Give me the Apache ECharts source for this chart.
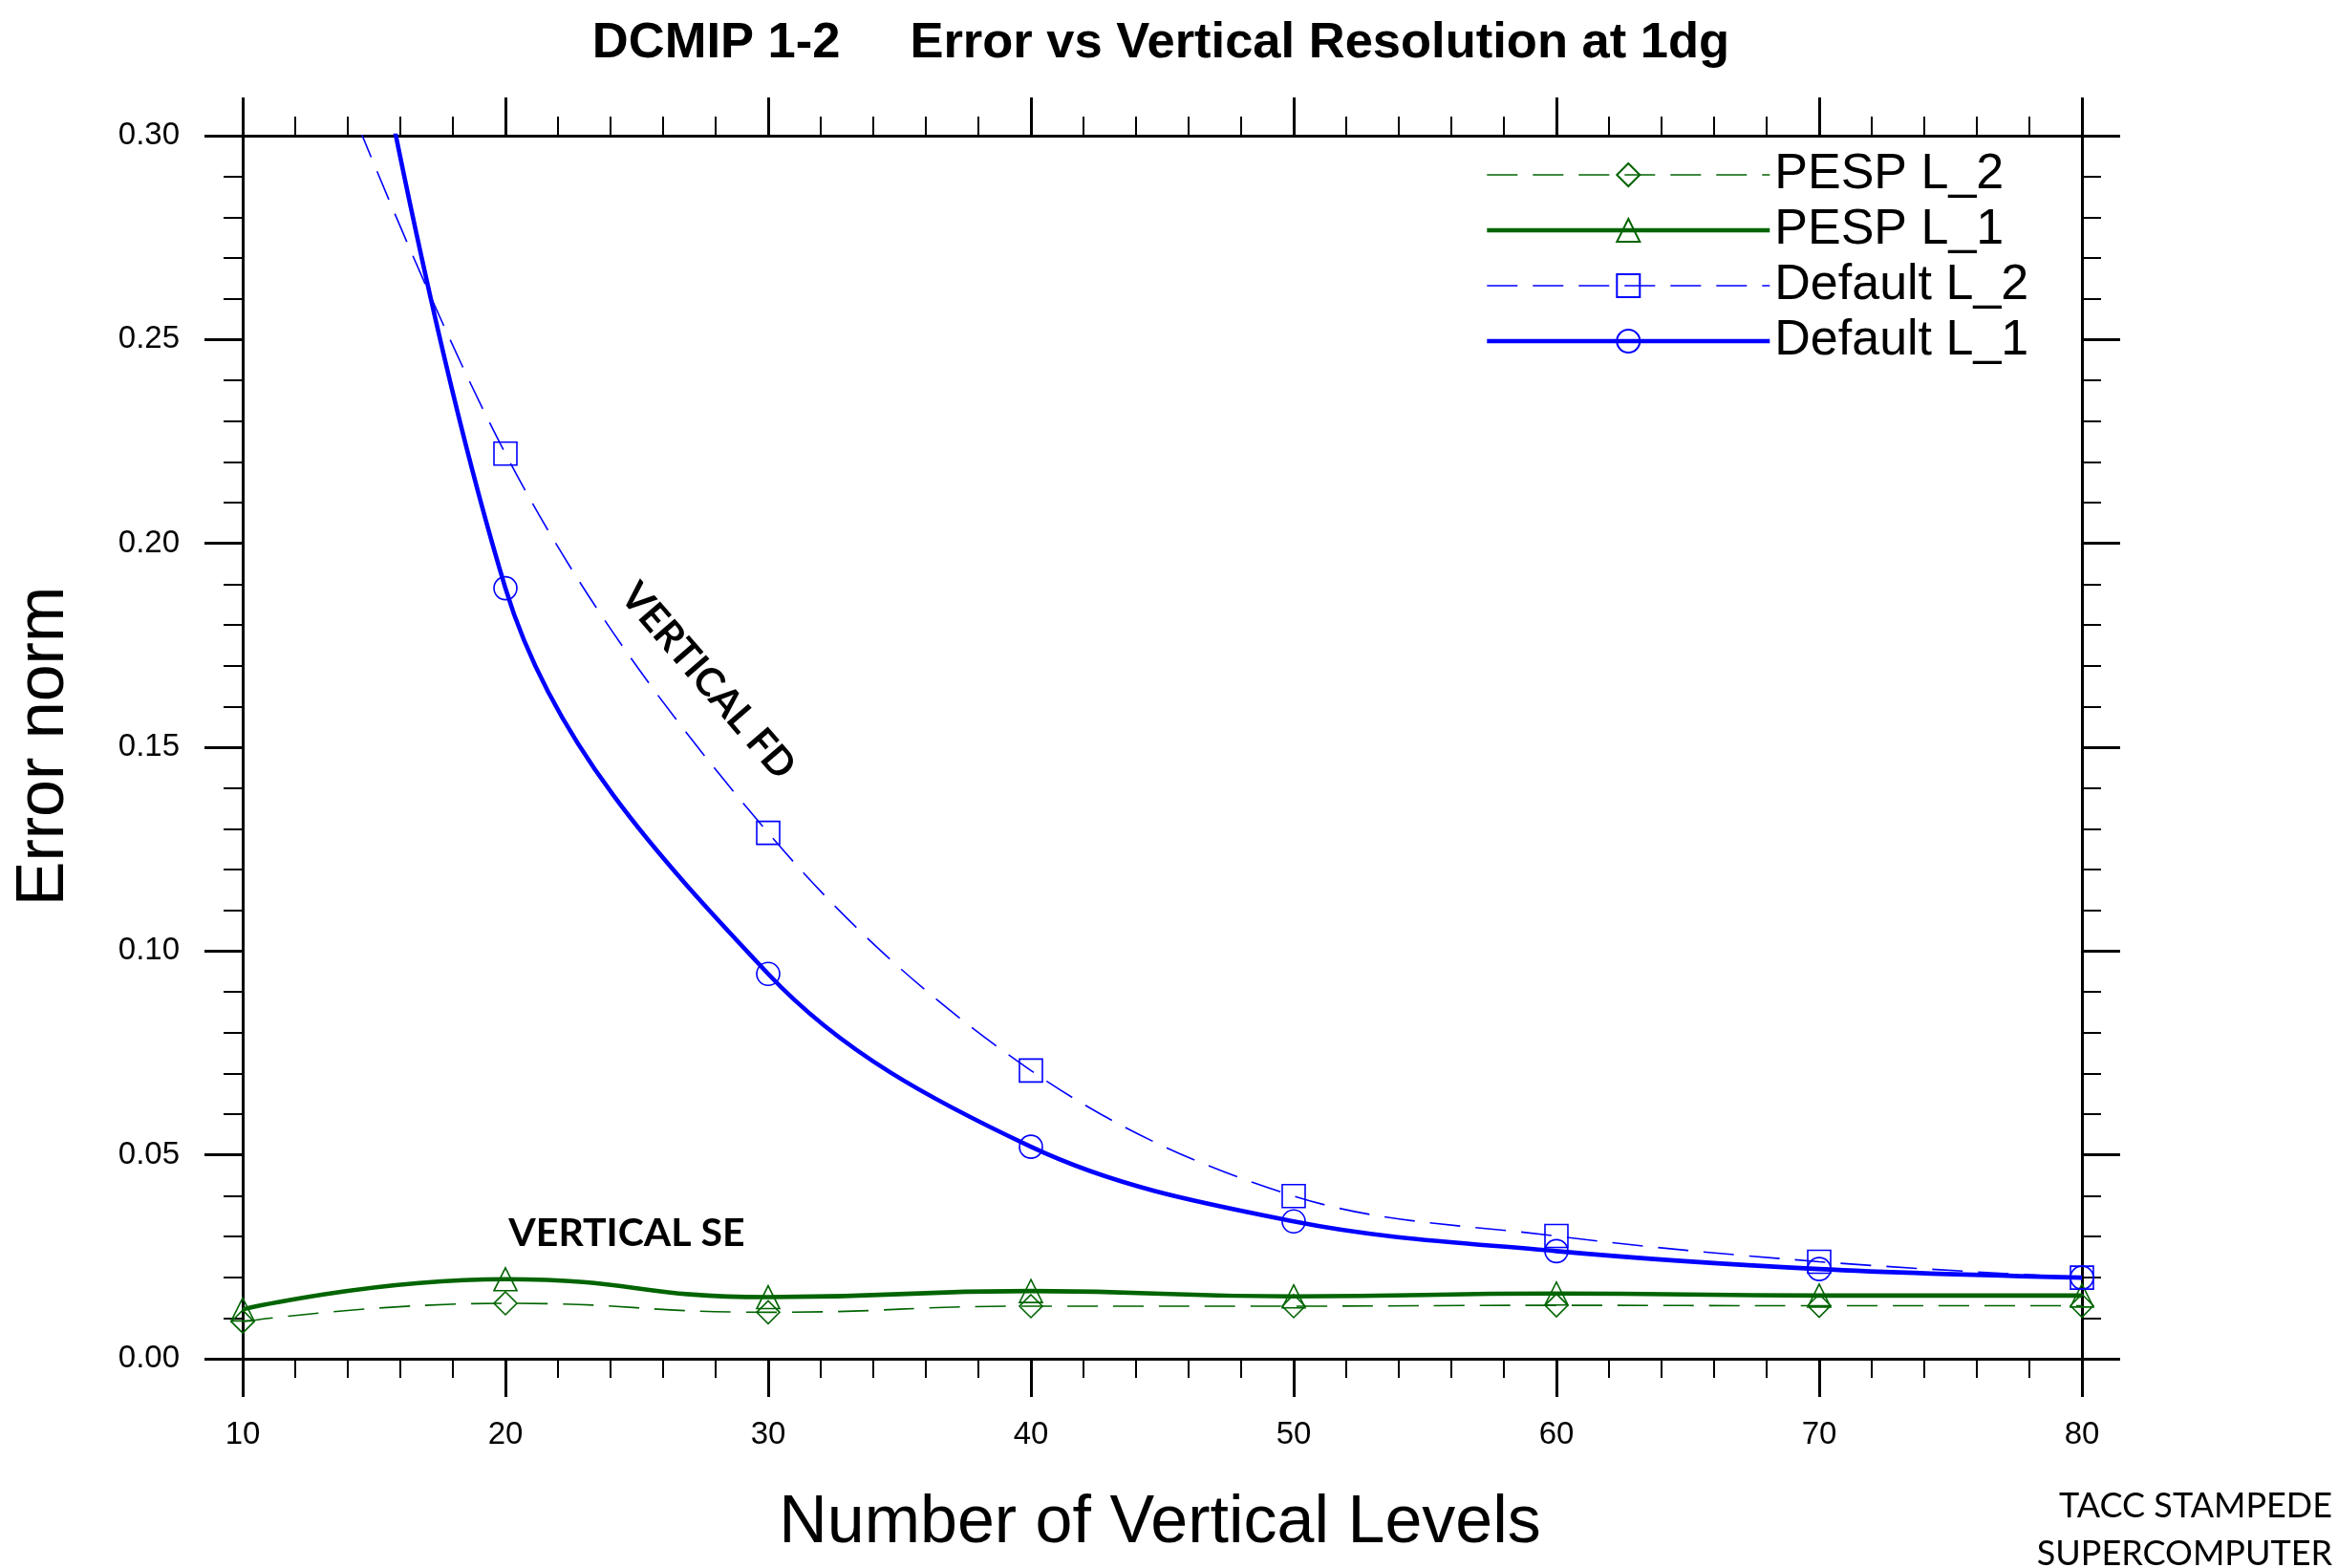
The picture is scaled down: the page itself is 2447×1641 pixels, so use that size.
<!DOCTYPE html>
<html><head><meta charset="utf-8">
<script src="https://cdn.jsdelivr.net/npm/echarts@6/dist/echarts.min.js"></script>
<style>html,body{margin:0;padding:0;background:#fff}#c{width:2447px;height:1641px}</style>
</head><body><div id="c"></div>
<script>
const levels = [10, 20, 30, 40, 50, 60, 70, 80];
const defaultL1 = [0.52, 0.189, 0.0944, 0.052, 0.0337, 0.0264, 0.0220, 0.0199];
const defaultL2 = [0.375, 0.222, 0.129, 0.0707, 0.0399, 0.0301, 0.0238, 0.0199];
const pespL1 = [0.0121, 0.0195, 0.0151, 0.0166, 0.0153, 0.0160, 0.0155, 0.0155];
const pespL2 = [0.0091, 0.0136, 0.0114, 0.0129, 0.0129, 0.0131, 0.0130, 0.0130];
const seriesNames = ['PESP L_2', 'PESP L_1', 'Default L_2', 'Default L_1'];
const titleText = 'DCMIP 1-2     Error vs Vertical Resolution at 1dg';
const xTitle = 'Number of Vertical Levels';
const yTitle = 'Error norm';

const BLUE = '#0000ff', GREEN = '#006400';
const FONT = '"Liberation Sans", Arial, sans-serif';
const SOLID_W = 4.6, DASH_W = 1.6;
const pairs = arr => levels.map((x, i) => [x, arr[i]]);

function mkSeries(name, arr, color, solid, symbol, smooth) {
  return {
    name, type: 'line', data: pairs(arr), smooth,
    xAxisIndex: 0, yAxisIndex: 0,
    symbol, symbolSize: 24, showSymbol: true,
    lineStyle: solid ? {color, width: SOLID_W, type: 'solid'} : {color, width: DASH_W, type: [32, 16]},
    itemStyle: {color: 'rgba(0,0,0,0)', borderColor: color, borderWidth: 1.6},
    emphasis: {disabled: true},
    z: solid ? 3 : 2
  };
}

const axisCommon = {
  axisLine: {show: true, onZero: false, lineStyle: {color: '#000', width: 3}},
  axisTick: {show: true, inside: false, length: 40, lineStyle: {color: '#000', width: 3}},
  minorTick: {show: true, splitNumber: 5, length: 20, lineStyle: {color: '#000', width: 2}},
  splitLine: {show: false}
};

const chart = echarts.init(document.getElementById('c'));
chart.setOption({
  animation: false,
  backgroundColor: '#fff',
  grid: {left: 254, right: 268, top: 142, bottom: 219, containLabel: false},
  xAxis: [
    Object.assign({type: 'value', position: 'bottom', min: 10, max: 80, interval: 10,
      axisLabel: {show: true, margin: 63, fontFamily: FONT, fontSize: 33, color: '#000'}}, axisCommon),
    Object.assign({type: 'value', position: 'top', min: 10, max: 80, interval: 10,
      axisLabel: {show: false}}, axisCommon)
  ],
  yAxis: [
    Object.assign({type: 'value', position: 'left', min: 0, max: 0.3, interval: 0.05,
      axisLabel: {show: true, margin: 66, fontFamily: FONT, fontSize: 33, color: '#000',
        formatter: v => v.toFixed(2)}}, axisCommon),
    Object.assign({type: 'value', position: 'right', min: 0, max: 0.3, interval: 0.05,
      axisLabel: {show: false}}, axisCommon)
  ],
  legend: {
    orient: 'vertical', left: 1549, top: 152, padding: 5,
    itemWidth: 296, itemHeight: 30, itemGap: 6,
    selectedMode: false,
    textStyle: {fontFamily: FONT, fontSize: 52, color: '#000'},
    data: [
      {name: seriesNames[0], lineStyle: {width: DASH_W}},
      {name: seriesNames[1], lineStyle: {width: SOLID_W}},
      {name: seriesNames[2], lineStyle: {width: DASH_W}},
      {name: seriesNames[3], lineStyle: {width: SOLID_W}}
    ]
  },
  series: [
    mkSeries(seriesNames[0], pespL2, GREEN, false, 'diamond', 0.5),
    mkSeries(seriesNames[1], pespL1, GREEN, true, 'triangle', 0.5),
    mkSeries(seriesNames[2], defaultL2, BLUE, false, 'rect', 0.35),
    mkSeries(seriesNames[3], defaultL1, BLUE, true, 'circle', 0.35)
  ],
  graphic: [
    {type: 'text', x: 1215, y: 46, silent: true,
      style: {text: titleText, font: 'bold 52.5px ' + FONT, fill: '#000', align: 'center', verticalAlign: 'middle'}},
    {type: 'text', x: 1214, y: 1595, silent: true,
      style: {text: xTitle, font: '70px ' + FONT, fill: '#000', align: 'center', verticalAlign: 'middle'}},
    {type: 'text', x: 47, y: 781, rotation: Math.PI / 2, silent: true,
      style: {text: yTitle, font: '70px ' + FONT, fill: '#000', align: 'center', verticalAlign: 'middle'}},
    {type: 'text', x: 741, y: 713, rotation: -0.86, silent: true,
      style: {text: 'VERTICAL FD', font: 'bold 41px Lato', fill: '#000', align: 'center', verticalAlign: 'middle'}},
    {type: 'text', x: 656, y: 1291, silent: true,
      style: {text: 'VERTICAL SE', font: 'bold 41px Lato', fill: '#000', align: 'center', verticalAlign: 'middle'}},
    {type: 'text', x: 2441, y: 1576, silent: true,
      style: {text: 'TACC STAMPEDE', font: '36px Lato', fill: '#000', align: 'right', verticalAlign: 'middle'}},
    {type: 'text', x: 2441, y: 1626, silent: true,
      style: {text: 'SUPERCOMPUTER', font: '36px Lato', fill: '#000', align: 'right', verticalAlign: 'middle'}}
  ]
});
</script></body></html>
